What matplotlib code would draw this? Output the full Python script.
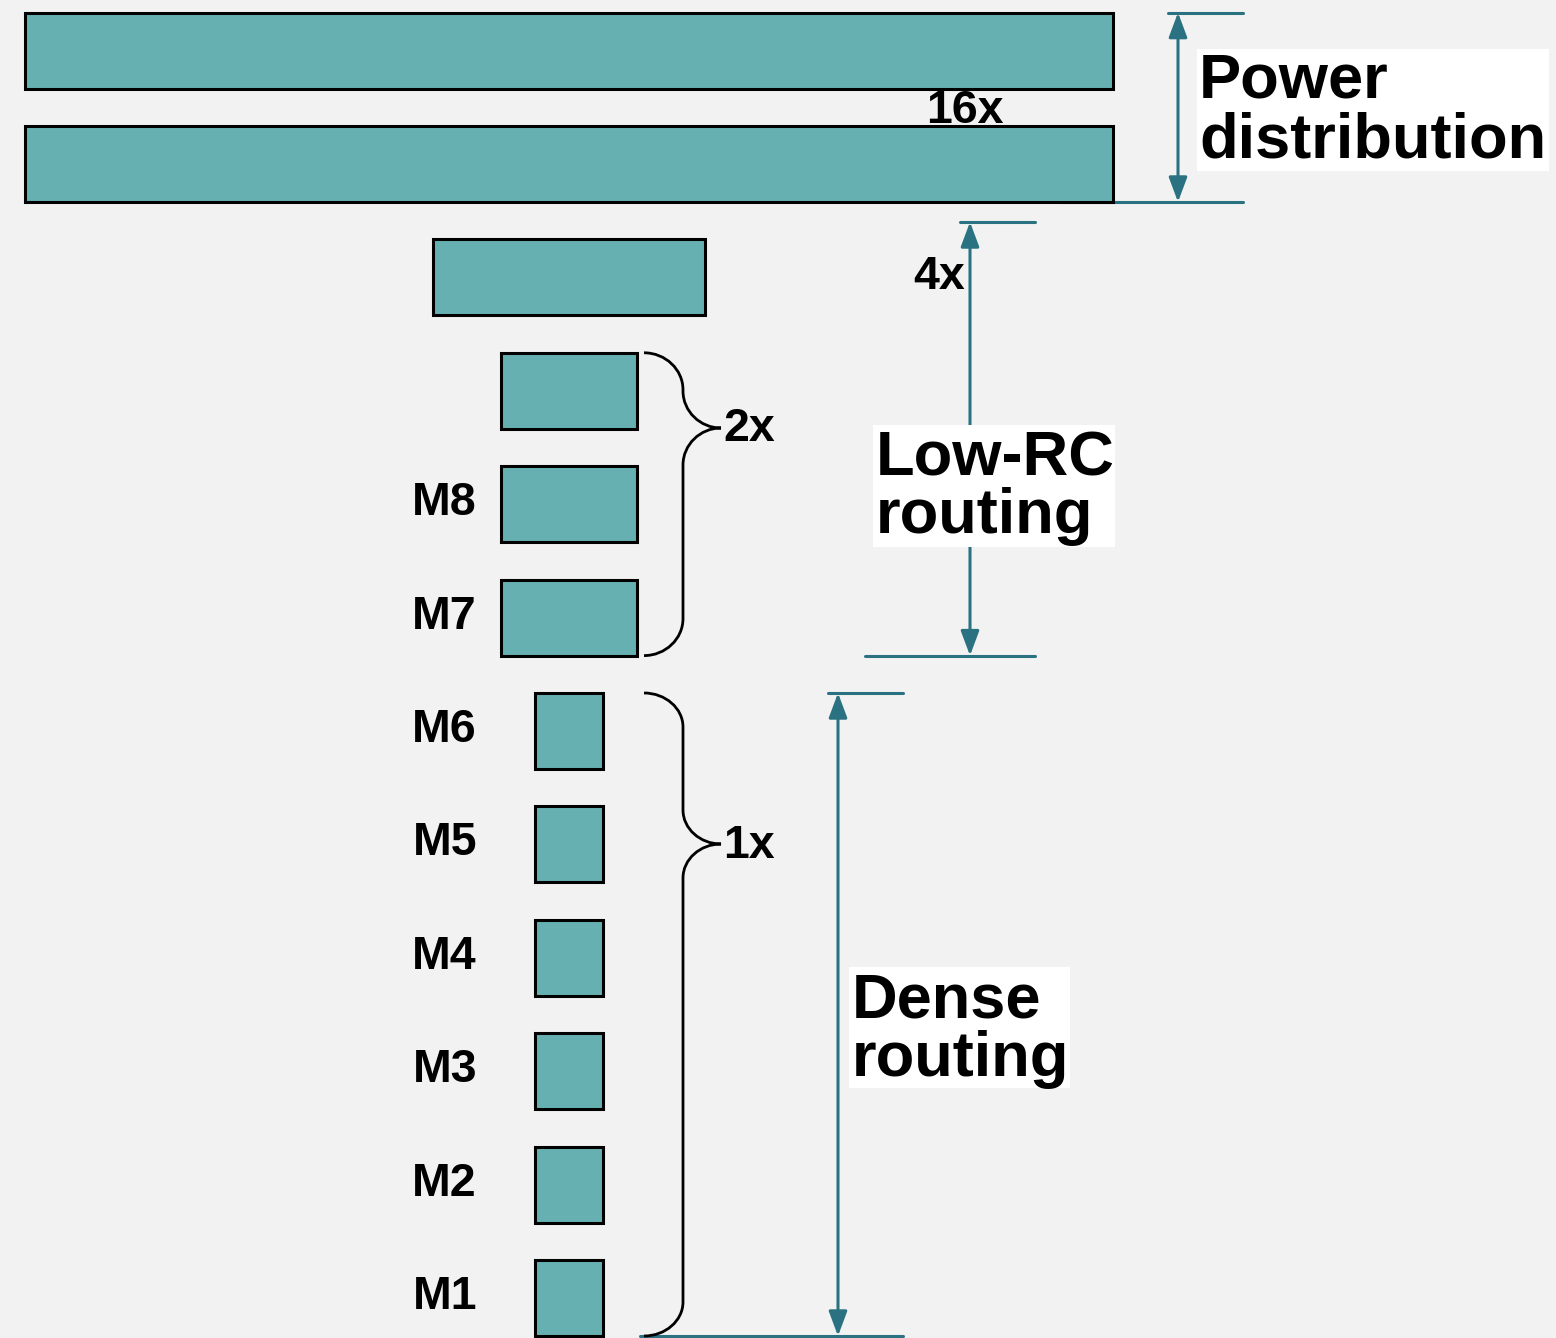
import matplotlib
matplotlib.use("Agg")
import matplotlib.pyplot as plt
from matplotlib.patches import Rectangle, PathPatch
from matplotlib.path import Path

# ---- data ----
layer_labels = ["M1", "M2", "M3", "M4", "M5", "M6", "M7", "M8", "", "", "", ""]
width_mult = [1, 1, 1, 1, 1, 1, 2, 2, 2, 4, 16, 16]
group_labels = ["1x", "2x", "4x", "16x"]
region_labels = ["Dense\nrouting", "Low-RC\nrouting", "Power\ndistribution"]

FILL = "#66b0b2"
TEAL = "#2a7282"
BG = "#f2f2f2"
FONT = "Liberation Sans"

fig = plt.figure(figsize=(15.56, 13.38), dpi=100, facecolor=BG)
ax = fig.add_axes([0, 0, 1, 1])
ax.set_facecolor(BG)
ax.set_xlim(0, 1556)
ax.set_ylim(1338, 0)
ax.axis("off")

unit = 68
pitch = 113.4
h = 76
cx = 569.5
y0 = 1260

tops = []
for i, (lab, m) in enumerate(zip(layer_labels, width_mult)):
    top = y0 - i * pitch
    tops.append(top)
    w = unit * m
    ax.add_patch(Rectangle((cx - w / 2, top), w, h, facecolor=FILL,
                           edgecolor="black", lw=2.2, zorder=3))
    if lab:
        ax.text(477, top + h / 2 + 11, lab, ha="right", va="baseline",
                fontsize=33.5, fontweight="bold", family=FONT, zorder=5)


def brace(x_end, x_spine, x_tip, y_top, y_tip, y_bot, r):
    k = 0.55
    dx1 = x_spine - x_end
    dx2 = x_tip - x_spine
    verts = [
        (x_end, y_top),
        (x_end + k * dx1, y_top), (x_spine, y_top + r - k * r), (x_spine, y_top + r),
        (x_spine, y_tip - r),
        (x_spine, y_tip - r + k * r), (x_tip - k * dx2, y_tip), (x_tip, y_tip),
        (x_tip - k * dx2, y_tip), (x_spine, y_tip + r - k * r), (x_spine, y_tip + r),
        (x_spine, y_bot - r),
        (x_spine, y_bot - r + k * r), (x_end + k * dx1, y_bot), (x_end, y_bot),
    ]
    codes = [Path.MOVETO,
             Path.CURVE4, Path.CURVE4, Path.CURVE4,
             Path.LINETO,
             Path.CURVE4, Path.CURVE4, Path.CURVE4,
             Path.CURVE4, Path.CURVE4, Path.CURVE4,
             Path.LINETO,
             Path.CURVE4, Path.CURVE4, Path.CURVE4]
    ax.add_patch(PathPatch(Path(verts, codes), facecolor="none",
                           edgecolor="black", lw=2.0, zorder=4))


# 2x brace (M7..M9)
brace(644, 683, 721, tops[8], 428, tops[6] + h, 37)
ax.text(723, 441, group_labels[1], ha="left", va="baseline", fontsize=33.5,
        fontweight="bold", family=FONT)
# 1x brace (M1..M6)
brace(644, 683, 721, tops[5], 844, tops[0] + h, 34)
ax.text(723, 858, group_labels[0], ha="left", va="baseline", fontsize=33.5,
        fontweight="bold", family=FONT)


def dim_arrow(x, y_a, y_b):
    ax.annotate("", xy=(x, y_b), xytext=(x, y_a),
                arrowprops=dict(arrowstyle="<|-|>,head_length=0.75,head_width=0.28",
                                mutation_scale=20, color=TEAL, lw=2.2,
                                shrinkA=0, shrinkB=0), zorder=1)


def hline(y, x1, x2):
    ax.plot([x1, x2], [y, y], color=TEAL, lw=2.2, solid_capstyle="round", zorder=1)


# Power distribution
hline(tops[11], 1168, 1243)
hline(tops[10] + h, 1060, 1243)
dim_arrow(1178, tops[11], tops[10] + h)
ax.text(926, 123, group_labels[3], ha="left", va="baseline", fontsize=33.5,
        fontweight="bold", family=FONT, zorder=5)

# Low-RC routing
hline(222, 960, 1035)
hline(tops[6] + h, 865, 1035)
dim_arrow(970, 222, tops[6] + h)
ax.text(913, 289, group_labels[2], ha="left", va="baseline", fontsize=33.5,
        fontweight="bold", family=FONT)

# Dense routing
hline(tops[5], 828, 903)
hline(tops[0] + h, 640, 903)
dim_arrow(838, tops[5], tops[0] + h)


def boxed_label(text, x0, x1, y_top, y_bot, tx, baselines):
    ax.add_patch(Rectangle((x0, y_top), x1 - x0, y_bot - y_top, facecolor="white",
                           edgecolor="none", zorder=6))
    for line, b in zip(text.split("\n"), baselines):
        ax.text(tx, b, line, ha="left", va="baseline", fontsize=45.5,
                fontweight="bold", family=FONT, zorder=7)


boxed_label(region_labels[2], 1197, 1549, 49, 171, 1199, [98, 157])
boxed_label(region_labels[1], 873, 1115, 425, 547, 876, [476, 533])
boxed_label(region_labels[0], 849, 1070, 967, 1088, 852, [1018, 1076])

fig.savefig("out.png", dpi=100, facecolor=BG)
